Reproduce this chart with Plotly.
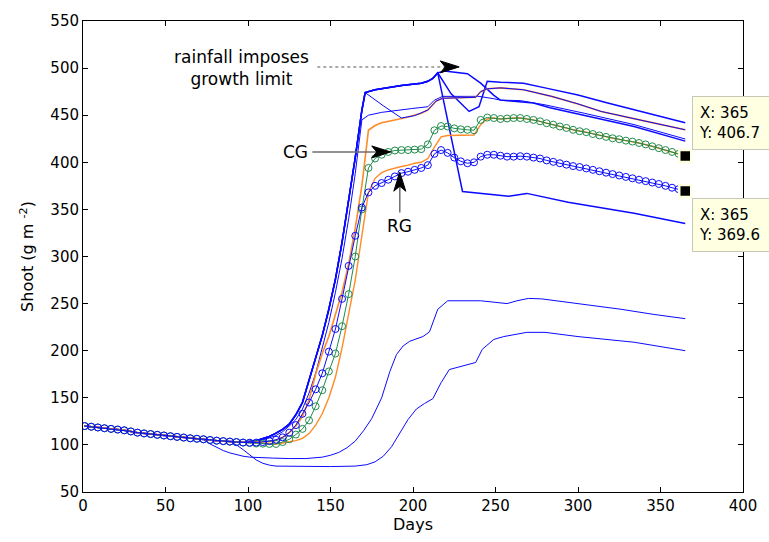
import plotly.graph_objects as go

# ---------------- data ----------------
grid_days = list(range(1, 366, 4))  # 1, 5, ..., 365 (marker grid)

rg_shoot = [120, 119.3, 118.5, 117.7, 117, 116.3, 115.5, 114.3, 113, 112.2,
            111.5, 110.7, 110, 109.2, 108.5, 107.8, 107, 106.5, 106, 105.2,
            104.5, 104, 103.5, 103, 102.5, 102.3, 102.5, 103, 104, 105.5,
            108, 113, 121, 133, 145, 159, 176, 199, 223, 255,
            290, 322, 352, 368, 375, 378, 381.5, 385, 388.5, 390,
            392, 394, 397, 409, 413, 410, 405, 401, 399, 400,
            406, 408, 408, 407, 406, 406, 406.5, 406, 405, 404,
            402, 400.5, 399, 397.5, 396, 395, 393.5, 392, 390.5, 389,
            387.5, 386, 384.5, 383, 381.5, 380, 378.5, 377, 375, 373,
            371.5, 369.6]

cg_shoot = [120, 119.3, 118.5, 117.7, 117, 116.3, 115.5, 114.3, 113, 112.2,
            111.5, 110.7, 110, 109.2, 108.5, 107.8, 107, 106.5, 106, 105.2,
            104.5, 104, 103.5, 103, 102.5, 102, 101.5, 101.3, 101, 101,
            103, 106, 111, 117, 126, 141, 158, 178, 197, 226,
            260, 300, 350, 394, 404, 408, 411, 412.5, 413, 413,
            413.5, 414, 419, 434, 438.5, 438, 436, 435, 434.5, 434,
            445, 447.5, 447, 446, 446.5, 447, 447, 446, 445, 443.5,
            441.5, 440, 438, 436.5, 434.5, 433, 432, 430, 428.5, 427,
            425.5, 424.5, 423, 422, 420.5, 419, 417, 415, 413, 411,
            409, 406.7]

pre_days = [1, 9, 17, 25, 33, 41, 49, 57, 65, 73, 81, 89, 97]
pre_shoot = [120, 118.5, 117, 115.5, 113, 111.5, 110, 108.5, 107, 106, 104.5, 103.5, 102.8]

rise_days = [105, 109, 113, 117, 121, 125, 129, 133, 137, 141, 145, 149, 153, 157, 161, 165, 169, 171]
rise_shoot = [104.5, 106.5, 109, 112.5, 116.5, 122, 132, 145, 168, 192, 216, 244, 276, 315, 358, 405, 455, 474]

drop_days = pre_days + rise_days + [177, 184, 193, 205, 209, 212, 215, 230, 245, 258, 269, 294, 334, 365]
drop_shoot = pre_shoot + rise_shoot + [477, 479, 481.5, 484, 486, 489, 495, 369, 366, 364, 367, 357.5, 346, 335]

top_days = pre_days + rise_days + [177, 184, 193, 205, 209, 212, 215, 223, 234, 240, 245, 253, 267, 280, 300, 318, 338, 365]
top_shoot = pre_shoot + rise_shoot + [477, 479, 481.5, 484, 486, 489, 495, 473, 454, 459, 486, 485, 484, 479, 471.5, 463, 454, 442]

peak_days = pre_days + rise_days + [177, 184, 193, 205, 209, 212, 215, 219, 225, 233, 241, 249, 253, 273, 283, 304, 334, 365]
peak_shoot = pre_shoot + rise_shoot + [477, 479, 481.5, 484, 486, 489, 495, 497, 495.5, 494, 484, 471, 466, 463, 458, 450, 438, 422.5]

zig_days = pre_days + rise_days + [182, 193, 201, 209, 214, 218, 238, 241, 245, 253, 267, 284, 300, 314, 340, 365]
zig_shoot = pre_shoot + rise_shoot + [460, 447, 449.5, 455.5, 465, 468, 469, 475, 478, 479, 477, 470, 462, 454, 444, 434.5]

b2_days = pre_days + [105, 109, 113, 117, 121, 125, 129, 133, 137, 141, 145, 149, 153, 157, 161, 165, 169,
                      173, 181, 189, 199, 209, 213, 218, 240, 249, 253, 265, 280, 304, 334, 365]
b2_shoot = pre_shoot + [104, 105.5, 107.5, 110, 114, 120, 127, 138, 155, 176, 202, 230, 262, 298, 340, 388, 445,
                        450, 453, 455, 457, 459, 466, 470, 470, 467.5, 466, 465.5, 461, 452, 440, 424.7]

o1_days = pre_days + [105, 109, 113, 117, 121, 125, 129, 133, 137, 141, 145, 149, 153, 157, 161, 165, 169, 173,
                      177, 181, 189, 197, 205, 209, 214, 218, 238, 241, 245, 253, 267, 284, 300, 314, 340, 365]
o1_shoot = pre_shoot + [103, 103, 103.5, 105, 108, 113, 120, 130, 148, 175, 197, 215, 238, 262, 292, 330, 375, 434,
                        439, 442, 445, 448, 452, 455.5, 465, 468, 469, 475, 478, 479, 477, 470, 462, 454, 444, 434.5]

o2_days = pre_days + [105, 109, 113, 117, 121, 125, 129, 133, 137, 141, 145, 149, 153, 157, 161, 165, 169, 173,
                      177, 181, 185, 189, 193, 197, 201, 205, 209, 213, 217, 221, 237, 241, 245,
                      249, 253, 261, 265, 273, 281, 289, 297, 305, 313, 321, 329, 337, 345, 353, 361, 365]
o2_shoot = pre_shoot + [102.5, 102, 101.5, 101, 102, 103, 104.5, 107, 112, 121, 133, 150, 172, 203, 238, 275, 322, 368,
                        383, 389, 392, 394, 395.5, 397, 399, 400, 404, 416, 427, 428.5, 429, 440, 446,
                        447, 446, 447, 447, 445, 441.5, 438, 434.5, 432, 428.5, 425.5, 423, 420.5, 417, 413, 409, 406.7]

low_a_days = pre_days[:10] + [77, 81, 85, 89, 93, 97, 101, 105, 115, 125, 135, 145, 150, 155, 160, 165, 170, 175,
                              181, 186, 190, 194, 198, 206, 210, 215, 221, 241, 257, 263, 270, 278, 300, 326, 346, 365]
low_a_shoot = pre_shoot[:10] + [101, 97.5, 94, 91.5, 89.5, 88, 87, 86.5, 86, 85.5, 85.5, 87, 89, 92, 97, 104, 115, 128,
                                150, 178, 196, 205, 210, 215, 220, 244, 253, 253, 250, 253, 255.5, 255, 250, 244, 238.5, 234]

low_b_days = pre_days[:12] + [93, 97, 101, 105, 109, 113, 117, 130, 150, 165, 172, 177, 182, 187, 192, 197, 202, 207,
                              212, 217, 222, 230, 238, 242, 249, 255, 269, 280, 300, 334, 365]
low_b_shoot = pre_shoot[:12] + [100, 95, 89, 84, 80.5, 78.5, 77.5, 77, 77, 77.5, 79, 82, 88, 98, 112, 127, 138, 144,
                                149, 166, 180, 184, 187.5, 201.5, 212, 215, 219.5, 219.5, 215, 209, 200]

x_ticks = [0, 50, 100, 150, 200, 250, 300, 350, 400]
y_ticks = [50, 100, 150, 200, 250, 300, 350, 400, 450, 500, 550]

# ---------------- styles ----------------
BLUE = "#0a0aff"
ORANGE = "#ff8a26"
GREEN = "#1f8b4c"
FONT = "DejaVu Sans"

fig = go.Figure()

def add_line(x, y, color, width=1.0):
    assert len(x) == len(y), (len(x), len(y))
    fig.add_trace(go.Scatter(x=x, y=y, mode="lines", line=dict(color=color, width=width),
                             hoverinfo="skip", showlegend=False))

add_line(low_a_days, low_a_shoot, BLUE)
add_line(low_b_days, low_b_shoot, BLUE)
add_line(drop_days, drop_shoot, BLUE, 1.5)
add_line(top_days, top_shoot, BLUE, 1.5)
add_line(peak_days, peak_shoot, BLUE, 1.5)
add_line(b2_days, b2_shoot, BLUE)
add_line(o1_days, o1_shoot, ORANGE, 1.6)
add_line(zig_days, zig_shoot, BLUE)
add_line(o2_days, o2_shoot, ORANGE, 1.4)

assert len(grid_days) == len(cg_shoot) == len(rg_shoot), (len(grid_days), len(cg_shoot), len(rg_shoot))
fig.add_trace(go.Scatter(x=grid_days, y=cg_shoot, mode="lines+markers",
                         line=dict(color=GREEN, width=1),
                         marker=dict(symbol="circle-open", size=7, color=GREEN, line=dict(width=1)),
                         showlegend=False, hoverinfo="skip"))
fig.add_trace(go.Scatter(x=grid_days, y=rg_shoot, mode="lines+markers",
                         line=dict(color=BLUE, width=1),
                         marker=dict(symbol="circle-open", size=7, color=BLUE, line=dict(width=1)),
                         showlegend=False, hoverinfo="skip"))

# data-tip squares
fig.add_trace(go.Scatter(x=[grid_days[-1], grid_days[-1]], y=[cg_shoot[-1], rg_shoot[-1]], mode="markers",
                         marker=dict(symbol="square", size=12, color="black",
                                     line=dict(color="#ffffe1", width=2.5)),
                         cliponaxis=False, showlegend=False, hoverinfo="skip"))

# ---------------- layout ----------------
L, R, T, B = 83, 24, 21, 49
W, H = 769, 542
PW, PH = W - L - R, H - T - B

axis_common = dict(showline=True, linecolor="black", linewidth=1, mirror="ticks",
                   ticks="inside", ticklen=5, tickcolor="black", tickwidth=1,
                   showgrid=False, zeroline=False,
                   tickfont=dict(family=FONT, size=15, color="black"))

fig.update_layout(
    width=W, height=H,
    margin=dict(l=L, r=R, t=T, b=B),
    paper_bgcolor="white", plot_bgcolor="white",
    showlegend=False,
    xaxis=dict(range=[0, 400], tickvals=x_ticks, **axis_common,
               title=dict(text="Days", font=dict(family=FONT, size=16, color="black"), standoff=4)),
    yaxis=dict(range=[50, 550], tickvals=y_ticks, **axis_common,
               title=dict(text="Shoot (g m <sup>-2</sup>)", font=dict(family=FONT, size=16, color="black"),
                          standoff=12)),
)

ann_font = dict(family=FONT, size=17, color="black")

def arrow_head(x_tip, y_tip, direction):
    # notched (MATLAB-like) arrowhead, sized in pixels, anchored at the tip in data coords
    if direction == "right":
        path = "M0,0 L-19,6 L-14,0 L-19,-6 Z"
    else:  # up
        path = "M0,0 L-6,-19 L0,-14 L6,-19 Z"
    fig.add_shape(type="path", xsizemode="pixel", ysizemode="pixel",
                  xanchor=x_tip, yanchor=y_tip, path=path,
                  fillcolor="black", line=dict(color="black", width=1))

# rainfall annotation
fig.add_annotation(x=96, y=499.7, text="rainfall imposes<br>growth limit", showarrow=False,
                   font=ann_font, align="center")
fig.add_shape(type="line", x0=142, x1=220, y0=501.3, y1=501.3,
              line=dict(color="#909090", width=1.5, dash="dot"))
arrow_head(228, 501.3, "right")

# CG
fig.add_annotation(x=128.7, y=411, text="CG", showarrow=False, font=dict(family=FONT, size=17, color="black"))
fig.add_shape(type="line", x0=139, x1=180, y0=411, y1=411, line=dict(color="#6e6e6e", width=1.5))
arrow_head(186.5, 411, "right")

# RG
fig.add_annotation(x=192, y=332.8, text="RG", showarrow=False, font=dict(family=FONT, size=17, color="black"))
fig.add_shape(type="line", x0=192, x1=192, y0=346.6, y1=382, line=dict(color="#6e6e6e", width=1.5))
arrow_head(192, 389.5, "up")

# data tips
tip_font = dict(family=FONT, size=15, color="black")
for val, top_px in [(cg_shoot[-1], 96), (rg_shoot[-1], 198)]:
    fig.add_annotation(xref="paper", yref="paper",
                       x=(694 - L) / PW, y=(H - B - top_px) / PH,
                       xanchor="left", yanchor="top",
                       text=f"X: {grid_days[-1]}<br>Y: {val}", showarrow=False, align="left",
                       font=tip_font, bgcolor="#ffffe1", bordercolor="#c8c8b8", borderwidth=1,
                       borderpad=6, width=72, height=40)

fig.write_html("out.html")
